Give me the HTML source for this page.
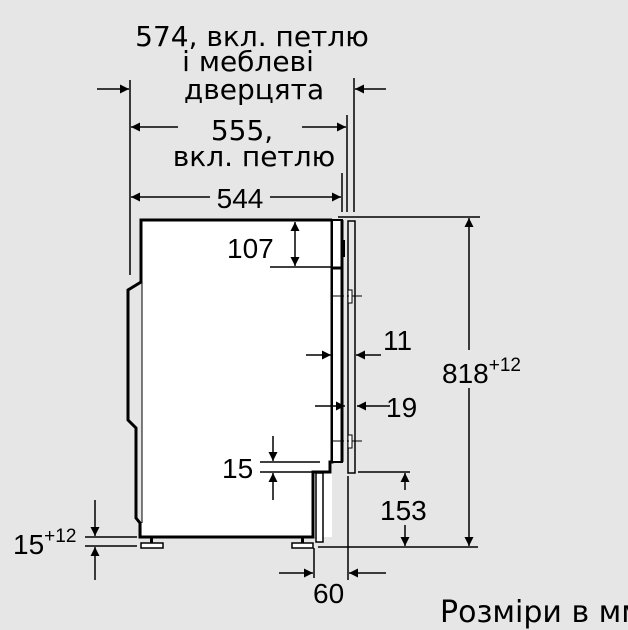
<!DOCTYPE html>
<html><head><meta charset="utf-8"><style>
html,body{margin:0;padding:0;background:#e6e6e6;}
svg{display:block}
text{font-family:"DejaVu Sans","Liberation Sans",sans-serif;fill:#000}
.n{font-family:"Liberation Sans",sans-serif;font-size:28px}
</style></head><body>
<svg width="628" height="630" viewBox="0 0 628 630" xmlns="http://www.w3.org/2000/svg">
<defs>
<marker id="a" viewBox="0 0 10 10" refX="10" refY="5" markerWidth="12" markerHeight="9" markerUnits="userSpaceOnUse" orient="auto"><path d="M0,0 L10,5 L0,10 z" fill="#000"/></marker>
</defs>
<rect width="628" height="630" fill="#e6e6e6"/>
<rect x="142" y="220" width="190" height="317" fill="#fff"/>
<polyline points="332,220 141,220 141,282 128,290 128,420 136,428 136,518 140,523 140,537 313,537 313,472 330,472 330,462 332,462 332,220" fill="none" stroke="#000" stroke-width="3"/>
<line x1="142" y1="282" x2="142" y2="523" stroke="#000" stroke-width="1"/>
<rect x="332" y="220" width="10" height="242" fill="#fff" stroke="#000" stroke-width="2"/>
<line x1="331" y1="268" x2="342" y2="268" stroke="#000" stroke-width="3"/>
<rect x="342" y="240" width="3" height="17" fill="#000"/>
<line x1="330" y1="462" x2="342" y2="462" stroke="#000" stroke-width="2"/>
<line x1="342" y1="220" x2="342" y2="462" stroke="#000" stroke-width="3"/>
<rect x="316" y="473" width="7" height="69" fill="#fff" stroke="#000" stroke-width="1.5"/>
<rect x="348" y="221" width="7" height="252" fill="#e6e6e6" stroke="#000" stroke-width="1.5"/>
<rect x="348" y="290" width="4" height="13" fill="#fff" stroke="#000" stroke-width="1"/>
<rect x="348" y="435" width="4" height="13" fill="#fff" stroke="#000" stroke-width="1"/>
<line x1="332" y1="296" x2="362" y2="296" stroke="#000" stroke-width="1" stroke-dasharray="12,3,2,3"/>
<line x1="332" y1="441" x2="362" y2="441" stroke="#000" stroke-width="1" stroke-dasharray="12,3,2,3"/>
<rect x="150" y="537" width="3" height="6" fill="#000"/>
<rect x="141" y="543" width="22" height="5" fill="#fff" stroke="#000" stroke-width="1.5"/>
<rect x="301" y="537" width="3" height="6" fill="#000"/>
<rect x="292" y="543" width="21" height="5" fill="#fff" stroke="#000" stroke-width="1.5"/>
<g stroke="#000" stroke-width="1.5" fill="none">
<line x1="130" y1="80" x2="130" y2="275"/>
<line x1="354" y1="78" x2="354" y2="212"/>
<line x1="347" y1="115" x2="347" y2="212"/>
<line x1="342" y1="173" x2="342" y2="212"/>
<line x1="97" y1="89" x2="129" y2="89" marker-end="url(#a)"/>
<line x1="386" y1="89" x2="355" y2="89" marker-end="url(#a)"/>
<line x1="178" y1="127" x2="131" y2="127" marker-end="url(#a)"/>
<line x1="302" y1="127" x2="346" y2="127" marker-end="url(#a)"/>
<line x1="210" y1="197" x2="131" y2="197" marker-end="url(#a)"/>
<line x1="270" y1="197" x2="341" y2="197" marker-end="url(#a)"/>
<line x1="338" y1="217" x2="480" y2="217"/>
<line x1="318" y1="547" x2="478" y2="547"/>
<line x1="469" y1="350" x2="469" y2="218" marker-end="url(#a)"/>
<line x1="469" y1="388" x2="469" y2="546" marker-end="url(#a)"/>
<line x1="270" y1="267" x2="331" y2="267"/>
<line x1="295" y1="245" x2="295" y2="222" marker-end="url(#a)"/>
<line x1="295" y1="245" x2="295" y2="266" marker-end="url(#a)"/>
<line x1="306" y1="355" x2="331" y2="355" marker-end="url(#a)"/>
<line x1="381" y1="355" x2="356" y2="355" marker-end="url(#a)"/>
<line x1="315" y1="406" x2="345" y2="406" marker-end="url(#a)"/>
<line x1="390" y1="406" x2="357" y2="406" marker-end="url(#a)"/>
<line x1="260" y1="462" x2="320" y2="462"/>
<line x1="260" y1="472" x2="313" y2="472"/>
<line x1="273" y1="436" x2="273" y2="461" marker-end="url(#a)"/>
<line x1="273" y1="500" x2="273" y2="473" marker-end="url(#a)"/>
<line x1="358" y1="472" x2="410" y2="472"/>
<line x1="405" y1="490" x2="405" y2="473" marker-end="url(#a)"/>
<line x1="405" y1="525" x2="405" y2="546" marker-end="url(#a)"/>
<line x1="85" y1="537" x2="137" y2="537"/>
<line x1="85" y1="546" x2="137" y2="546"/>
<line x1="95" y1="500" x2="95" y2="536" marker-end="url(#a)"/>
<line x1="95" y1="580" x2="95" y2="547" marker-end="url(#a)"/>
<line x1="314" y1="548" x2="314" y2="578"/>
<line x1="348" y1="476" x2="348" y2="580"/>
<line x1="279" y1="573" x2="313" y2="573" marker-end="url(#a)"/>
<line x1="386" y1="573" x2="349" y2="573" marker-end="url(#a)"/>
</g>
<text x="252" y="46" font-size="28" text-anchor="middle">574, вкл. петлю</text>
<text x="248" y="71" font-size="28" text-anchor="middle">і меблеві</text>
<text x="254" y="99" font-size="28" text-anchor="middle">дверцята</text>
<text x="242" y="140" font-size="28" text-anchor="middle">555,</text>
<text x="254" y="166" font-size="28" text-anchor="middle">вкл. петлю</text>
<text class="n" x="240" y="208" text-anchor="middle">544</text>
<text class="n" x="227" y="258">107</text>
<text class="n" x="383" y="350">11</text>
<text class="n" x="386" y="417">19</text>
<text class="n" x="222" y="478">15</text>
<text class="n" x="380" y="520">153</text>
<text class="n" x="442" y="383">818<tspan font-size="19" dy="-12">+12</tspan></text>
<text class="n" x="13" y="554">15<tspan font-size="19" dy="-12">+12</tspan></text>
<text class="n" x="313" y="603">60</text>
<text x="440" y="622" font-size="30">Розміри в мм</text>
</svg>
</body></html>
